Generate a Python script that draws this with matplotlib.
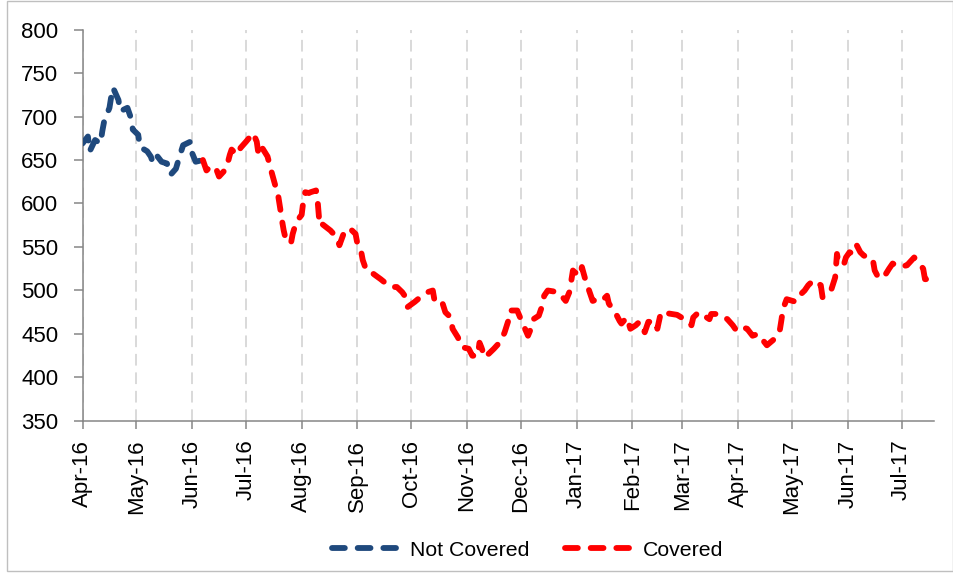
import matplotlib
matplotlib.use("Agg")
import matplotlib.pyplot as plt
import matplotlib.dates as mdates
from matplotlib.patches import Rectangle
import pandas as pd

start_date = "2016-04-01"
end_date = "2017-07-19"

# day offsets from start_date and values
not_covered_days = [0, 3, 4, 7, 10, 11, 12, 15, 16, 17, 20, 21, 23, 25, 27, 28, 31, 32,
                    36, 38, 39, 41, 44, 47, 49, 52, 54, 56, 60, 61, 63, 67]
not_covered_vals = [669, 677, 660, 673, 669, 683, 694, 710, 723, 733, 719, 706, 708, 710,
                    698, 685, 679, 665, 660, 654, 648, 656, 648, 646, 633, 640, 654, 667,
                    671, 658, 648, 650]

covered_days = [67, 69, 71, 74, 76, 80, 82, 83, 86, 88, 91, 95, 97, 98, 100, 103, 105, 107,
                109, 110, 111, 112, 113, 116, 117, 119, 122, 123, 124, 126, 127, 130, 131,
                132, 133, 138, 142, 143, 146, 149, 152, 153, 155, 156, 158, 162, 166, 169,
                172, 175, 178, 180, 181, 185, 189, 192, 195, 196, 200, 202, 205, 206, 209,
                211, 215, 217, 220, 221, 222, 224, 229, 233, 235, 237, 238, 242, 244, 248,
                250, 251, 254, 256, 257, 259, 265, 269, 271, 272, 273, 274, 277, 278, 280,
                282, 284, 287, 289, 292, 293, 297, 299, 300, 303, 305, 308, 310, 313, 315,
                319, 320, 322, 325, 331, 335, 336, 339, 340, 343, 349, 350, 354, 359, 362,
                364, 367, 370, 373, 376, 381, 385, 388, 389, 390, 392, 397, 399, 402, 404,
                407, 411, 412, 417, 419, 420, 421, 424, 425, 427, 429, 431, 433, 435, 439,
                440, 441, 443, 446, 449, 451, 455, 459, 463, 466, 468, 469, 471, 473]
covered_vals = [650, 638, 642, 642, 631, 640, 656, 662, 656, 664, 671, 681, 671, 656, 664,
                654, 638, 623, 608, 595, 581, 569, 560, 554, 565, 579, 587, 604, 613, 612,
                613, 615, 600, 575, 577, 569, 560, 552, 569, 571, 565, 554, 546, 535, 523,
                519, 513, 508, 504, 504, 498, 492, 481, 487, 494, 498, 500, 488, 488, 475,
                469, 456, 446, 435, 433, 425, 425, 440, 435, 423, 433, 442, 452, 465, 477,
                477, 467, 448, 458, 467, 471, 483, 494, 500, 498, 488, 498, 510, 523, 521,
                517, 527, 512, 500, 488, 490, 488, 494, 485, 473, 465, 462, 469, 456, 460,
                464, 452, 464, 464, 456, 475, 474, 472, 467, 465, 460, 469, 475, 467, 473,
                473, 467, 460, 454, 458, 456, 448, 450, 437, 444, 452, 465, 479, 490, 487,
                494, 500, 506, 512, 506, 492, 502, 515, 542, 531, 531, 538, 544, 542, 552,
                544, 540, 538, 535, 523, 515, 515, 525, 531, 527, 529, 538, 531, 525, 513,
                513, 511]

series_names = ["Not Covered", "Covered"]
series_colors = ["#1F497D", "#FF0000"]
y_ticks = [350, 400, 450, 500, 550, 600, 650, 700, 750, 800]

start = pd.Timestamp(start_date)
nc_dates = start + pd.to_timedelta(not_covered_days, unit="D")
c_dates = start + pd.to_timedelta(covered_days, unit="D")

fam = ["Liberation Sans", "DejaVu Sans"]

fig = plt.figure(figsize=(9.54, 5.73), dpi=100)
fig.patches.append(Rectangle((0.0073, 0.0035), 0.9916, 0.9948, transform=fig.transFigure,
                             fill=False, edgecolor="#BFBFBF", linewidth=1.0))
ax = fig.add_axes([0.0865, 0.2653, 0.979 - 0.0865, 0.9485 - 0.2653])

lw = 4.2
dash = (2.2, 2.2)
ax.plot(nc_dates, not_covered_vals, color=series_colors[0], lw=lw, dashes=dash,
        dash_capstyle="round", solid_capstyle="round", label=series_names[0], zorder=3)
ax.plot(c_dates, covered_vals, color=series_colors[1], lw=lw, dashes=dash,
        dash_capstyle="round", solid_capstyle="round", label=series_names[1], zorder=3)

ax.set_ylim(350, 800)
ax.set_yticks(y_ticks)
ax.set_xlim(pd.Timestamp(start_date), pd.Timestamp(end_date))
ax.xaxis.set_major_locator(mdates.MonthLocator())
ax.xaxis.set_major_formatter(mdates.DateFormatter("%b-%y"))

ax.grid(axis="x", color="#D9D9D9", lw=1.4, dashes=(6, 3.5))
ax.set_axisbelow(True)

for s in ["top", "right"]:
    ax.spines[s].set_visible(False)
for s in ["left", "bottom"]:
    ax.spines[s].set_color("#868686")
    ax.spines[s].set_linewidth(1.1)

ax.tick_params(axis="y", direction="out", length=6.5, width=1.1, color="#868686", pad=11)
ax.tick_params(axis="x", direction="out", length=5.5, width=1.1, color="#868686", pad=8)

for lab in ax.get_yticklabels():
    lab.set_fontfamily(fam)
    lab.set_fontsize(16)
for lab in ax.get_xticklabels():
    lab.set_fontfamily(fam)
    lab.set_fontsize(16)
    lab.set_rotation(90)

leg = fig.legend(loc="center", bbox_to_anchor=(0.553, 0.04), ncol=2, frameon=False,
                 prop={"family": fam, "size": 15.3}, handlelength=3.0,
                 handletextpad=0.65, columnspacing=1.7)

fig.savefig("out.png", dpi=100)
